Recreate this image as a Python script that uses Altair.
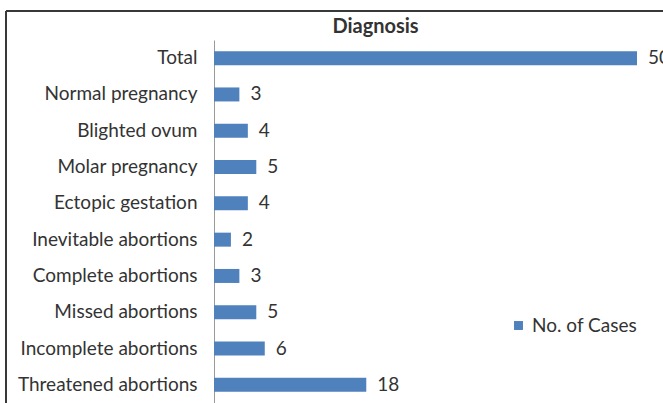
import altair as alt
import pandas as pd

categories = ["Total", "Normal pregnancy", "Blighted ovum", "Molar pregnancy",
              "Ectopic gestation", "Inevitable abortions", "Complete abortions",
              "Missed abortions", "Incomplete abortions", "Threatened abortions"]
cases = [50, 3, 4, 5, 4, 2, 3, 5, 6, 18]
series = "No. of Cases"

df = pd.DataFrame({"Diagnosis": categories, "Cases": cases, "Series": series})

W, H = 423, 363
FONT = "Lato"
BLUE = "#4F81BD"
TXT = "#333333"

y = alt.Y("Diagnosis:N", sort=categories, title=None,
          scale=alt.Scale(paddingInner=0.6, paddingOuter=0.3),
          axis=alt.Axis(labelFont=FONT, labelFontSize=19, labelColor=TXT,
                        ticks=False, labelPadding=17, domainColor="#9a9a9a",
                        domainWidth=1))
x = alt.X("Cases:Q", title=None, scale=alt.Scale(domain=[0, 50], nice=False),
          axis=None)

bars = alt.Chart(df).mark_bar(size=14).encode(
    y=y, x=x,
    color=alt.Color("Series:N", scale=alt.Scale(range=[BLUE]),
                    legend=alt.Legend(title=None, orient="none", legendX=295,
                                      legendY=276, symbolType="square",
                                      symbolSize=80, labelFont=FONT,
                                      labelFontSize=19, labelColor=TXT,
                                      symbolStrokeWidth=0))
)

labels = alt.Chart(df).mark_text(align="left", baseline="middle", dx=11,
                                 font=FONT, fontSize=19, color=TXT).encode(
    y=alt.Y("Diagnosis:N", sort=categories), x="Cases:Q", text="Cases:Q")

frame_top = alt.Chart(df).mark_rule(color="#3a3a3a", strokeWidth=1.5).encode(
    x=alt.value(-208), x2=alt.value(W + 100), y=alt.value(-29))
frame_left = alt.Chart(df).mark_rule(color="#3a3a3a", strokeWidth=1.5).encode(
    x=alt.value(-208), y=alt.value(-29), y2=alt.value(H + 20))

chart = alt.layer(frame_top, frame_left, bars, labels).properties(
    width=W, height=H,
    background="white",
    title=alt.TitleParams("Diagnosis", font=FONT, fontSize=20, fontWeight="bold",
                          color=TXT, anchor="middle", frame="group", dx=-50,
                          offset=-27),
    padding={"left": 214, "top": 40, "right": 26, "bottom": 0},
    autosize=alt.AutoSizeParams(type="none"),
).configure_view(strokeOpacity=0, strokeWidth=0)

chart.save("out.html", embed_options={"renderer": "svg", "actions": False})
